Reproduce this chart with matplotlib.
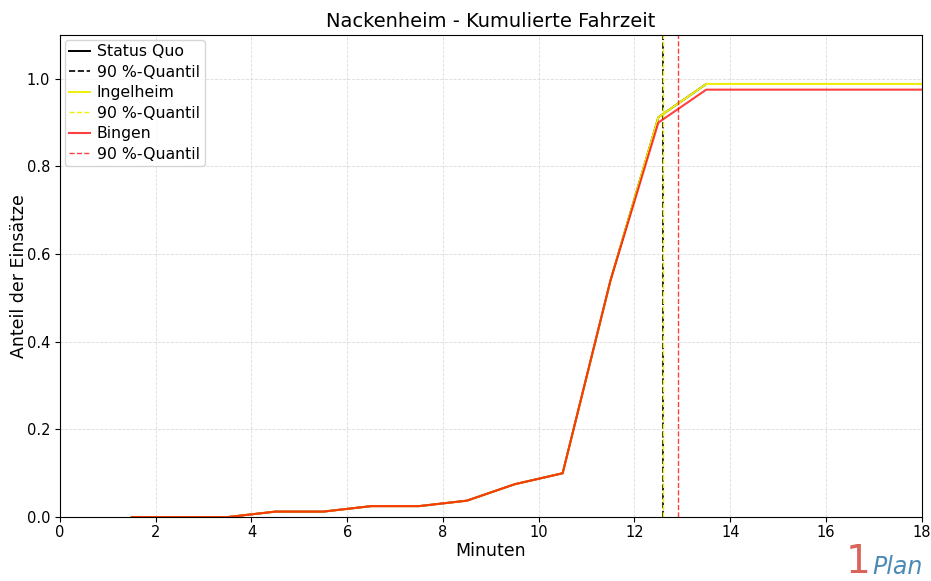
import numpy as np
import matplotlib.pyplot as plt

# Fahrzeit in Minuten (Klassenmitten) und kumulierter Anteil der Einsaetze
minuten = [1.5, 2.5, 3.5, 4.5, 5.5, 6.5, 7.5, 8.5, 9.5, 10.5, 11.5, 12.5, 13.5, 14.5, 15.5, 16.5, 17.5, 18.5]
status_quo = [0.0, 0.0, 0.0, 0.0125, 0.0125, 0.025, 0.025, 0.0375, 0.075, 0.1, 0.54, 0.912, 0.988, 0.988, 0.988, 0.988, 0.988, 0.988]
ingelheim = [0.0, 0.0, 0.0, 0.0125, 0.0125, 0.025, 0.025, 0.0375, 0.075, 0.1, 0.54, 0.912, 0.988, 0.988, 0.988, 0.988, 0.988, 0.988]
bingen = [0.0, 0.0, 0.0, 0.0125, 0.0125, 0.025, 0.025, 0.0375, 0.075, 0.1, 0.54, 0.900, 0.975, 0.975, 0.975, 0.975, 0.975, 0.975]

q90_status_quo = 12.6
q90_ingelheim = 12.6
q90_bingen = 12.9

fig = plt.figure(figsize=(9.31, 5.81), dpi=100)
ax = fig.add_axes([0.0644, 0.110, 0.9256, 0.830])

ax.plot(minuten, status_quo, color='black', lw=1.4, label='Status Quo')
ax.axvline(q90_status_quo, color='black', ls='--', lw=1.2, label='90 %-Quantil')
ax.plot(minuten, ingelheim, color='#eeee10', lw=1.5, label='Ingelheim')
ax.axvline(q90_ingelheim, color='#eeee10', ls='--', lw=1, label='90 %-Quantil')
ax.plot(minuten, bingen, color='red', alpha=0.75, lw=1.5, label='Bingen')
ax.axvline(q90_bingen, color='red', alpha=0.75, ls='--', lw=1, label='90 %-Quantil')

ax.set_xlim(0, 18)
ax.set_ylim(0, 1.1)
ax.set_xticks(np.arange(0, 19, 2))
ax.set_yticks([0.0, 0.2, 0.4, 0.6, 0.8, 1.0])
ax.tick_params(labelsize=10.5)
ax.tick_params(axis='x', pad=2.5)
ax.grid(True, color='#cccccc', ls='--', lw=0.6, alpha=0.7)

ax.set_title('Nackenheim - Kumulierte Fahrzeit', fontsize=14)
ax.set_xlabel('Minuten', fontsize=12.5, labelpad=1)
ax.set_ylabel('Anteil der Einsätze', fontsize=12.5, labelpad=-1)
ax.legend(loc='upper left', fontsize=11.3, handlelength=1.3, handletextpad=0.45,
          borderaxespad=0.3, labelspacing=0.35, borderpad=0.3)

# Logo
fig.text(0.908, 0.0, '1', color='#d9645a', fontsize=28, ha='left', va='bottom')
fig.text(0.937, 0.003, 'Plan', color='#4a8ab5', fontsize=17, style='italic', ha='left', va='bottom')

fig.savefig('out.png', dpi=100)
